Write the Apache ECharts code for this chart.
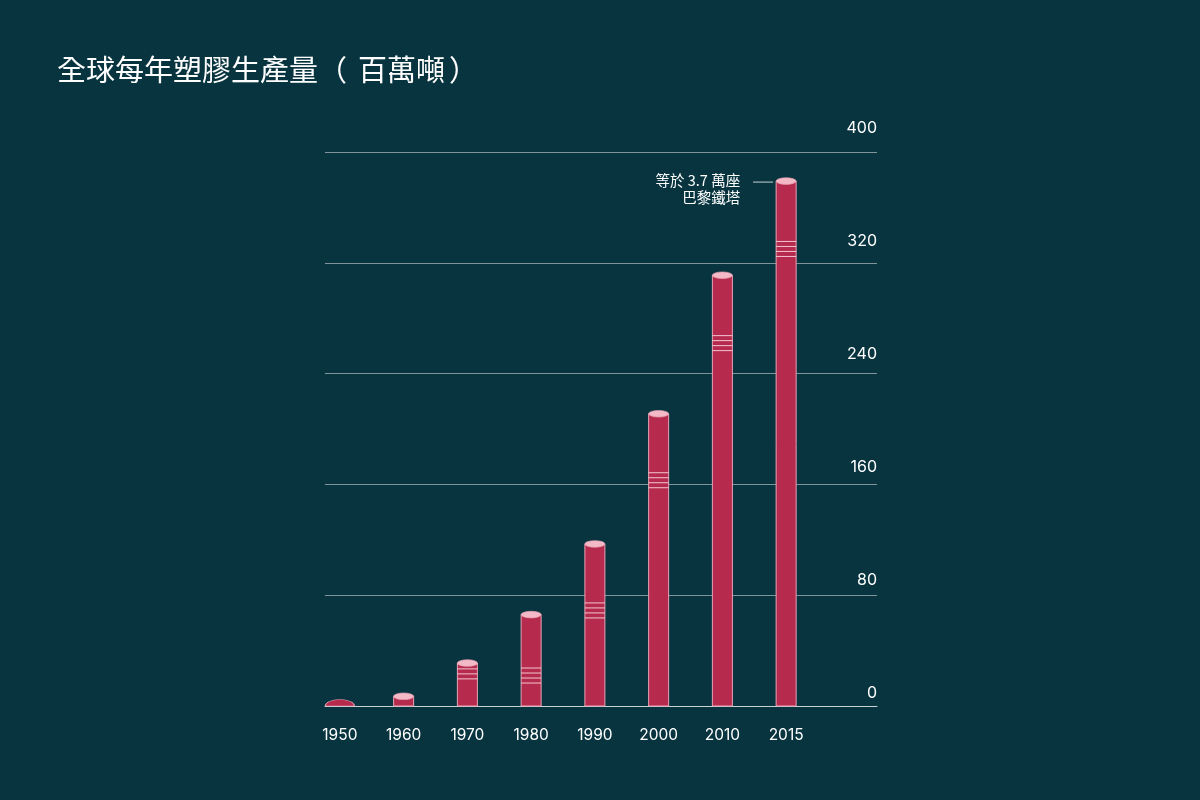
<!DOCTYPE html>
<html>
<head>
<meta charset="utf-8">
<script src="https://cdn.jsdelivr.net/npm/echarts@6/dist/echarts.min.js"></script>
<style>
html,body{margin:0;padding:0;background:#07343f;}
#chart{width:1200px;height:800px;}
</style>
</head>
<body>
<div id="chart"></div>
<script>
// 資料
var years = ['1950', '1960', '1970', '1980', '1990', '2000', '2010', '2015'];
var production = [2, 7, 31, 66, 117, 211, 311, 379];
var stripeAt = [null, null, 25, 22, 69, 163, 262, 330];
var yTicks = [0, 80, 160, 240, 320, 400];
var noteYear = '2015';
var noteText = '等於 3.7 萬座\n巴黎鐵塔';

var barColor = '#b52a4d';
var capColor = '#f3b9c6';
var edgeColor = '#eaa3b4';
var cjk = '"Noto Sans CJK TC", "Noto Sans", sans-serif';
var num = 'Inter, Roboto, sans-serif';

var seriesData = [];
for (var i = 0; i < years.length; i++) {
    seriesData.push([i, production[i], stripeAt[i] == null ? '-' : stripeAt[i]]);
}

function renderBar(params, api) {
    var idx = api.value(0);
    var v = api.value(1);
    var base = api.coord([idx, 0]);
    var top = api.coord([idx, v]);
    var cx = base[0];
    var w = 20;
    var h = base[1] - top[1];
    var children = [];
    if (h < 4) {
        // 太小了，只畫一個半圓頂
        children.push({
            type: 'sector',
            x: cx, y: base[1], scaleY: 0.45,
            shape: {cx: 0, cy: 0, r: 14.5, r0: 0, startAngle: Math.PI, endAngle: Math.PI * 2},
            style: {fill: barColor, stroke: edgeColor, lineWidth: 1.2}
        });
        return {type: 'group', children: children};
    }
    children.push({
        type: 'rect',
        shape: {x: cx - w / 2, y: top[1], width: w, height: h},
        style: {fill: barColor, stroke: edgeColor, lineWidth: 1}
    });
    var s = api.value(2);
    if (!isNaN(s)) {
        var sy = api.coord([idx, s])[1];
        var offs = [-7.5, -2.5, 2.5, 7.5];
        for (var k = 0; k < offs.length; k++) {
            children.push({
                type: 'line',
                shape: {x1: cx - w / 2, y1: sy + offs[k], x2: cx + w / 2, y2: sy + offs[k]},
                style: {stroke: 'rgba(255,225,232,0.85)', lineWidth: 1}
            });
        }
    }
    children.push({
        type: 'circle',
        x: cx, y: top[1], scaleY: 0.33,
        shape: {cx: 0, cy: 0, r: w / 2},
        style: {fill: capColor, stroke: edgeColor, lineWidth: 1}
    });
    if (years[idx] === noteYear) {
        children.push({
            type: 'line',
            shape: {x1: cx - 33, y1: top[1] + 1, x2: cx - 13, y2: top[1] + 1},
            style: {stroke: '#c9d3d5', lineWidth: 1}
        });
        children.push({
            type: 'text',
            x: cx - 46, y: top[1] - 9,
            style: {
                text: noteText, fill: '#ffffff', align: 'right', verticalAlign: 'top',
                font: '14.5px ' + cjk, lineHeight: 17
            }
        });
    }
    return {type: 'group', children: children};
}

var option = {
    backgroundColor: '#07343f',
    animation: false,
    title: {
        text: '全球每年塑膠生產量{l|（}百萬噸{r|）}',
        left: 57, top: 55, padding: 0,
        textStyle: {
            color: '#ffffff', fontSize: 29, fontWeight: 'normal', fontFamily: cjk,
            rich: {
                l: {color: '#ffffff', fontSize: 29, fontFamily: cjk, padding: [0, 11, 0, 0]},
                r: {color: '#ffffff', fontSize: 29, fontFamily: cjk, padding: [0, 0, 0, 4]}
            }
        }
    },
    grid: [
        {left: 325, right: 323, top: 152, bottom: 94},
        {left: 308, width: 510, top: 152, bottom: 94},
        {left: 325, right: 323, top: 128, bottom: 107}
    ],
    xAxis: [
        {
            gridIndex: 0, type: 'value', min: 0, max: 1,
            axisLine: {show: true, lineStyle: {color: '#c9d3d5', width: 1}},
            axisTick: {show: false}, axisLabel: {show: false}, splitLine: {show: false}
        },
        {
            gridIndex: 1, type: 'category', data: years,
            axisLine: {show: false}, axisTick: {show: false},
            axisLabel: {color: '#ffffff', fontSize: 15.5, fontFamily: num, margin: 21}
        },
        {gridIndex: 2, type: 'value', show: false}
    ],
    yAxis: [
        {
            gridIndex: 0, type: 'value', min: 0, max: 400, interval: 80,
            axisLine: {show: false}, axisTick: {show: false}, axisLabel: {show: false},
            splitLine: {lineStyle: {color: '#7f9599', width: 1}}
        },
        {gridIndex: 1, type: 'value', min: 0, max: 400, show: false},
        {
            gridIndex: 2, type: 'value', position: 'right',
            min: yTicks[0], max: yTicks[yTicks.length - 1], interval: yTicks[1] - yTicks[0],
            axisLine: {show: false}, axisTick: {show: false}, splitLine: {show: false},
            axisLabel: {inside: true, color: '#ffffff', fontSize: 16, fontFamily: num, margin: 0}
        }
    ],
    series: [{
        type: 'custom',
        xAxisIndex: 1, yAxisIndex: 1,
        renderItem: renderBar,
        encode: {x: 0, y: 1},
        data: seriesData,
        z: 10
    }]
};

var myChart = echarts.init(document.getElementById('chart'));
myChart.setOption(option);
</script>
</body>
</html>
